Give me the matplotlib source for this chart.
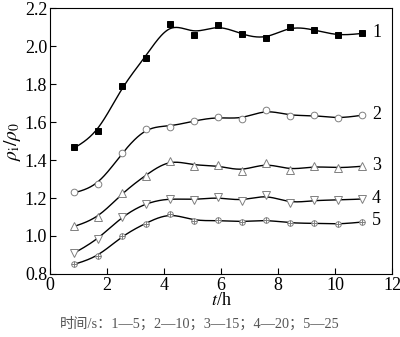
import numpy as np
import matplotlib
matplotlib.use("Agg")
import matplotlib.pyplot as plt

plt.rcParams['font.family'] = ['Liberation Serif', 'Noto Sans CJK SC']
plt.rcParams['mathtext.fontset'] = 'stix'

# data
t = [0.84, 1.68, 2.53, 3.37, 4.21, 5.05, 5.89, 6.72, 7.58, 8.42, 9.26, 10.1, 10.95]
s1 = [1.468, 1.553, 1.790, 1.937, 2.116, 2.058, 2.110, 2.063, 2.042, 2.100, 2.084, 2.058, 2.068]
s2 = [1.232, 1.274, 1.437, 1.563, 1.574, 1.605, 1.626, 1.616, 1.663, 1.632, 1.637, 1.621, 1.637]
s3 = [1.053, 1.100, 1.226, 1.316, 1.395, 1.368, 1.374, 1.342, 1.384, 1.347, 1.368, 1.358, 1.368]
s4 = [0.911, 0.984, 1.100, 1.168, 1.195, 1.189, 1.205, 1.184, 1.216, 1.174, 1.189, 1.189, 1.195]
s5 = [0.853, 0.895, 1.000, 1.063, 1.116, 1.079, 1.084, 1.074, 1.084, 1.068, 1.068, 1.063, 1.074]
labels = ['1', '2', '3', '4', '5']
caption = '时间/s：1—5；2—10；3—15；4—20；5—25'


def smooth_curve(x, y, lam=0.02, n=400):
    # penalised smoothing fit (like a smoothing spline), only for the drawn curve
    x = np.asarray(x, float)
    y = np.asarray(y, float)
    xs = np.linspace(x[0], x[-1], n)
    step = xs[1] - xs[0]
    idx = np.round((x - x[0]) / step).astype(int)
    w = np.zeros(n)
    z = np.zeros(n)
    w[idx] = 1.0
    z[idx] = y
    D = np.diff(np.eye(n), 2, axis=0) / step ** 2
    A = np.diag(w) + lam * step * D.T @ D
    ys = np.linalg.solve(A, w * z)
    return xs, ys


fig = plt.figure(figsize=(4.0, 3.37), dpi=100)
ax = fig.add_axes([0.125, 0.187, 0.855, 0.789])

grey = '#808080'
series = [s1, s2, s3, s4, s5]
styles = [dict(marker='s', mfc='black', mec='black', ms=4),
          dict(marker='o', mfc='white', mec=grey, ms=4.8),
          dict(marker='^', mfc='white', mec=grey, ms=5.5),
          dict(marker='v', mfc='white', mec=grey, ms=5.5),
          dict(marker='o', mfc='white', mec=grey, ms=4)]

for ys, st, lab in zip(series, styles, labels):
    xs, yy = smooth_curve(t, ys)
    ax.plot(xs, yy, color='black', lw=1.0, zorder=2)
    ax.plot(t, ys, linestyle='none', mew=0.7, zorder=3, **st)
    ax.text(11.3, ys[-1] + 0.005, lab, fontsize=13, va='center', ha='left')

# cross inside the series 5 markers
ax.plot(t, s5, linestyle='none', marker='+', color=grey, ms=4, mew=0.7, zorder=4)

ax.set_xlim(0, 12)
ax.set_ylim(0.8, 2.2)
ax.set_xticks(range(0, 13, 2))
ax.set_yticks(np.arange(0.8, 2.21, 0.2))
ax.yaxis.set_major_formatter(matplotlib.ticker.FormatStrFormatter('%.1f'))
ax.tick_params(direction='in', labelsize=13, length=4, width=0.8, pad=2)
for sp in ax.spines.values():
    sp.set_linewidth(0.8)

ax.set_xlabel('$t$/h', fontsize=13, labelpad=-1)
ax.set_ylabel(r'$\rho_{\rm i}/\rho_0$', fontsize=14, labelpad=1)

fig.text(0.5, 0.04, caption, fontsize=10.3, color='#555555', ha='center', va='center')

fig.savefig('out.png', dpi=100)
